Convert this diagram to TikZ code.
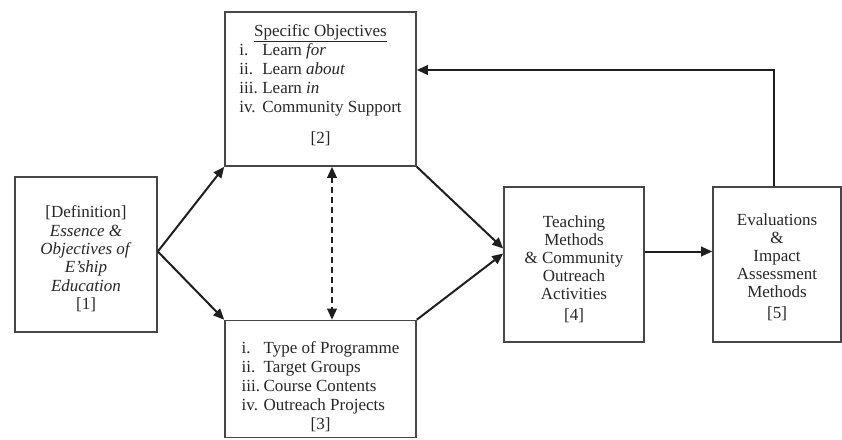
\documentclass[tikz,border=0pt]{standalone}
\usepackage{fontspec}
\setmainfont{Liberation Serif}
\usetikzlibrary{arrows.meta}

\begin{document}
\begin{tikzpicture}[x=1pt, y=-1pt, >={Triangle[length=11pt,width=9.5pt]},
  box/.style={draw=black!72, line width=1.6pt, inner sep=0pt, align=center,
    text=black!85, font=\fontsize{17}{18}\selectfont},
  flow/.style={->, draw=black!88, line width=2pt}]
  \useasboundingbox (0,0) rectangle (842,439);
  % boxes
  \node[box, minimum width=142, minimum height=155,
    font=\fontsize{17}{18.4}\selectfont] (def) at (86,254.5)
    {\rule{0pt}{20.5pt}[Definition]\\ \textit{Essence \&}\\ \textit{Objectives of}\\
     \textit{E'ship}\\ \textit{Education}\\{}[1]};
  \node[box, minimum width=191, minimum height=154,
    font=\fontsize{17}{19}\selectfont] (obj) at (320.5,89) {%
    \begin{tabular}{@{}p{23pt}@{}l@{}}
    \multicolumn{2}{c}{\underline{Specific Objectives}}\\
    i. & Learn \textit{for}\\
    ii. & Learn \textit{about}\\
    iii. & Learn \textit{in}\\
    iv. & Community Support\\[12pt]
    \multicolumn{2}{c}{[2]\rule[-12pt]{0pt}{0pt}}
    \end{tabular}};
  \node[box, minimum width=191, minimum height=117,
    font=\fontsize{17}{19}\selectfont] (prog) at (320.5,379) {%
    \begin{tabular}{@{}p{22pt}@{}l@{}}
    \rule{0pt}{30pt}i. & Type of Programme\\
    ii. & Target Groups\\
    iii. & Course Contents\\
    iv. & Outreach Projects\\
    \multicolumn{2}{c}{[3]}
    \end{tabular}};
  \node[box, minimum width=140, minimum height=155] (teach) at (574,264.5)
    {\rule{0pt}{22pt}Teaching\\ Methods\\ \& Community\\ Outreach\\ Activities\\[3pt]{}[4]};
  \node[box, minimum width=128, minimum height=155] (eval) at (777,264.5)
    {\rule{0pt}{16.5pt}Evaluations\\ \&\\ Impact\\ Assessment\\ Methods\\[3pt]{}[5]};
  % connectors
  \draw[flow] ([yshift=3pt]def.east) -- (obj.south west);
  \draw[flow] ([yshift=3pt]def.east) -- (prog.north west);
  \draw[flow] (obj.south east) -- ([yshift=16pt]teach.west);
  \draw[flow] (prog.north east) -- ([yshift=11pt]teach.west);
  \draw[flow] ([yshift=13pt]teach.east) -- ([yshift=13pt]eval.west);
  \draw[flow] ([xshift=-3pt]eval.north) |- ([yshift=19pt]obj.east);
  \draw[flow, <->, dash pattern=on 6pt off 4pt]
    ([xshift=11.5pt]obj.south) -- ([xshift=11.5pt]prog.north);
\end{tikzpicture}
\end{document}
